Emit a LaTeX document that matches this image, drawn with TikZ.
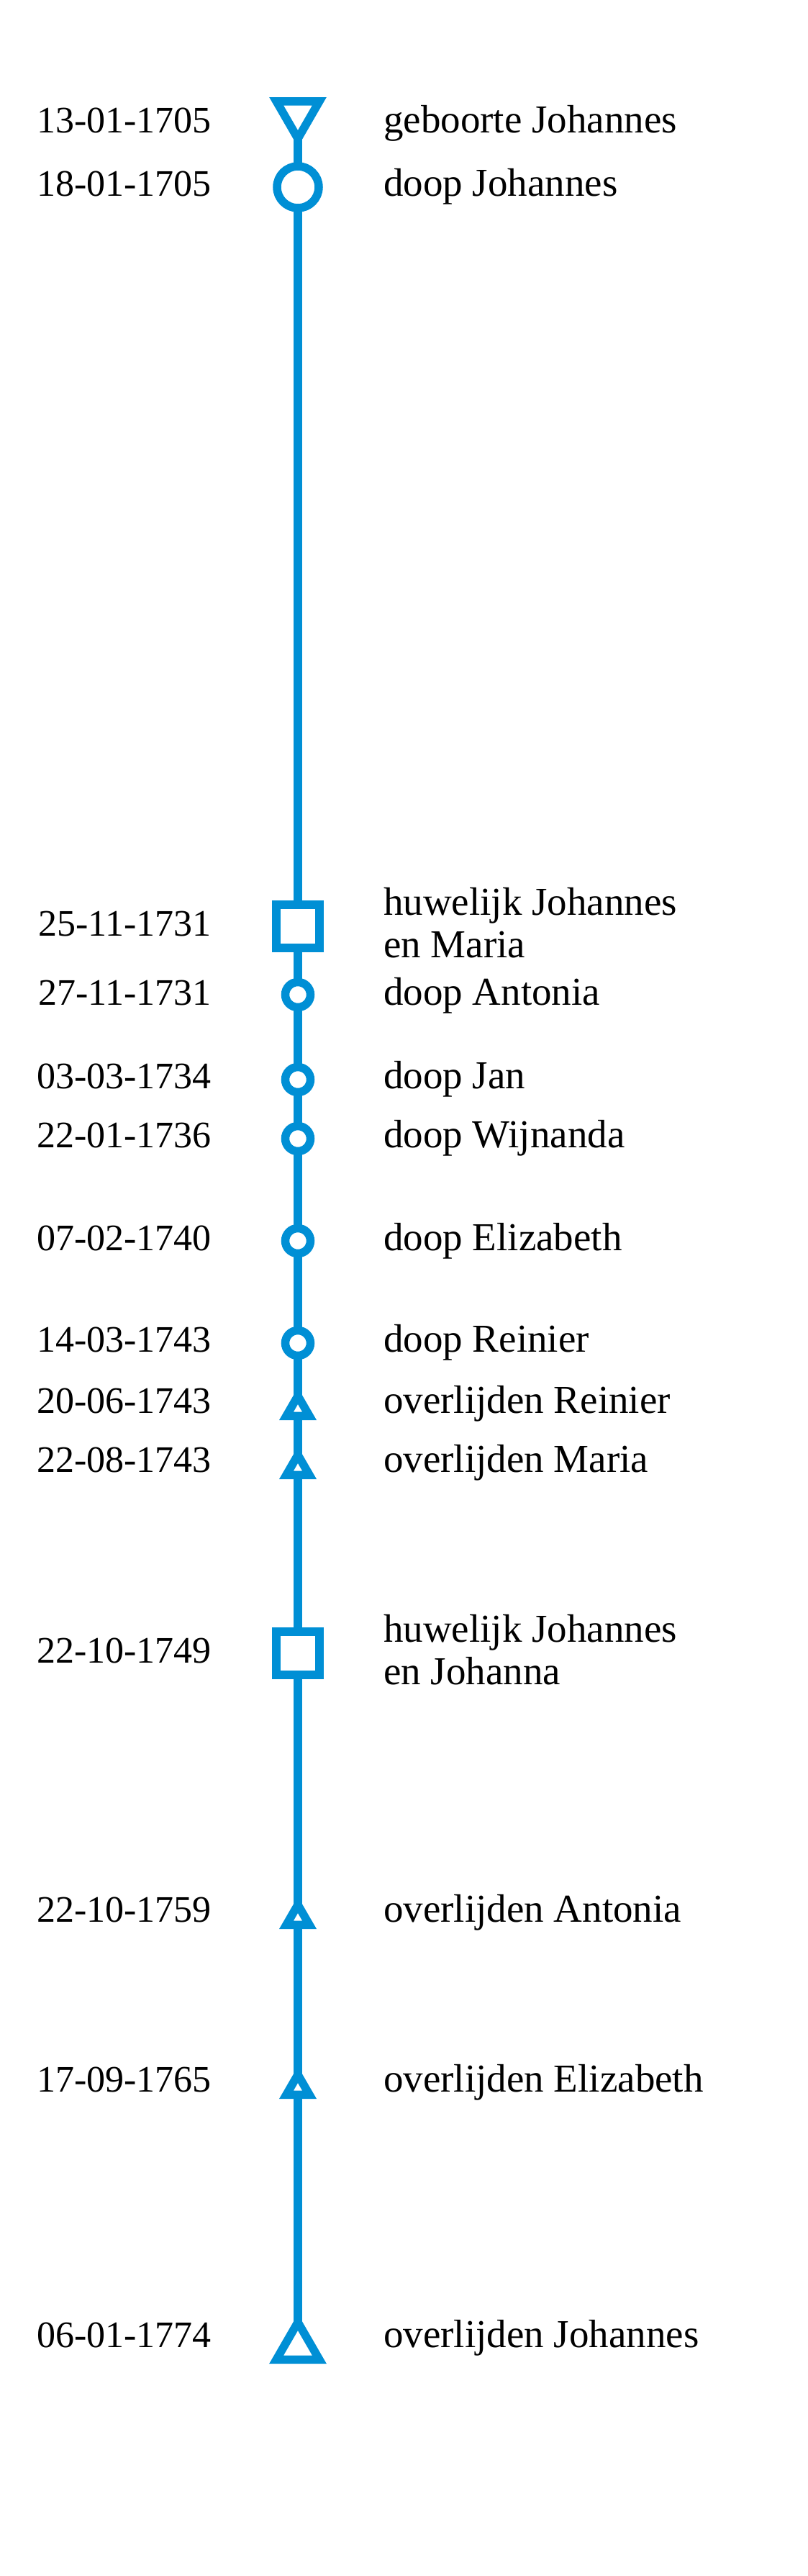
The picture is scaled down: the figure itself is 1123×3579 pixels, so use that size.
\documentclass[tikz,border=0pt]{standalone}
\usepackage{fontspec}
\setmainfont{Liberation Serif}
\usetikzlibrary{shapes.geometric,backgrounds}
\definecolor{tlblue}{HTML}{008FD5}
\begin{document}
\fontsize{55}{59}\selectfont
\begin{tikzpicture}[x=1pt,y=-1pt,
  mk/.style={draw=tlblue,line width=11.5pt,fill=white,inner sep=0pt,outer sep=0pt},
  bigcirc/.style={mk,circle,minimum size=58pt},
  smallcirc/.style={mk,circle,minimum size=35pt},
  sqbox/.style={mk,rectangle,minimum size=60pt},
  bigtri/.style={mk,regular polygon,regular polygon sides=3,minimum size=69pt,line join=miter},
  smalltri/.style={mk,regular polygon,regular polygon sides=3,minimum size=37pt,line join=miter},
  datelbl/.style={anchor=mid east,inner sep=0pt,font=\fontsize{52}{59}\selectfont},
  eventlbl/.style={anchor=mid west,inner sep=0pt},
  eventline/.style={anchor=base west,inner sep=0pt},
  timeline/.style={draw=tlblue,line width=11.5pt}
]
\useasboundingbox (0,0) rectangle (1123,3579);
% markers
\node[bigtri,shape border rotate=180] (m1) at (414,158) {};
\node[bigcirc] (m2) at (414,260) {};
\node[sqbox] (m3) at (414,1287) {};
\node[smallcirc] (m4) at (414,1382) {};
\node[smallcirc] (m5) at (414,1500) {};
\node[smallcirc] (m6) at (414,1582) {};
\node[smallcirc] (m7) at (414,1724) {};
\node[smallcirc] (m8) at (414,1866) {};
\node[smalltri] (m9) at (414,1958) {};
\node[smalltri] (m10) at (414,2040) {};
\node[sqbox] (m11) at (414,2297) {};
\node[smalltri] (m12) at (414,2665) {};
\node[smalltri] (m13) at (414,2901) {};
\node[bigtri] (m14) at (414,3261) {};
% timeline
\begin{scope}[on background layer]
  \fill[white] (0,0) rectangle (1123,3579);
  \draw[timeline] (m1.center) -- (m14.center);
\end{scope}
% dates
\node[datelbl] (d1) at (294,172) {13-01-1705};
\node[datelbl] (d2) at (294,260) {18-01-1705};
\node[datelbl] (d3) at (294,1288) {25-11-1731};
\node[datelbl] (d4) at (294,1384) {27-11-1731};
\node[datelbl] (d5) at (294,1500) {03-03-1734};
\node[datelbl] (d6) at (294,1582) {22-01-1736};
\node[datelbl] (d7) at (294,1725) {07-02-1740};
\node[datelbl] (d8) at (294,1866) {14-03-1743};
\node[datelbl] (d9) at (294,1951) {20-06-1743};
\node[datelbl] (d10) at (294,2033) {22-08-1743};
\node[datelbl] (d11) at (294,2298) {22-10-1749};
\node[datelbl] (d12) at (294,2658) {22-10-1759};
\node[datelbl] (d13) at (294,2894) {17-09-1765};
\node[datelbl] (d14) at (294,3249) {06-01-1774};
% events
\node[eventlbl] (e1) at (533,172) {geboorte Johannes};
\node[eventlbl] (e2) at (533,260) {doop Johannes};
\node[eventline] (e3a) at (533,1271) {huwelijk Johannes};
\node[eventline] (e3b) at (533,1330) {en Maria};
\node[eventlbl] (e4) at (533,1384) {doop Antonia};
\node[eventlbl] (e5) at (533,1500) {doop Jan};
\node[eventlbl] (e6) at (533,1582) {doop Wijnanda};
\node[eventlbl] (e7) at (533,1725) {doop Elizabeth};
\node[eventlbl] (e8) at (533,1866) {doop Reinier};
\node[eventlbl] (e9) at (533,1951) {overlijden Reinier};
\node[eventlbl] (e10) at (533,2033) {overlijden Maria};
\node[eventline] (e11a) at (533,2281) {huwelijk Johannes};
\node[eventline] (e11b) at (533,2340) {en Johanna};
\node[eventlbl] (e12) at (533,2658) {overlijden Antonia};
\node[eventlbl] (e13) at (533,2894) {overlijden Elizabeth};
\node[eventlbl] (e14) at (533,3249) {overlijden Johannes};
\end{tikzpicture}
\end{document}
